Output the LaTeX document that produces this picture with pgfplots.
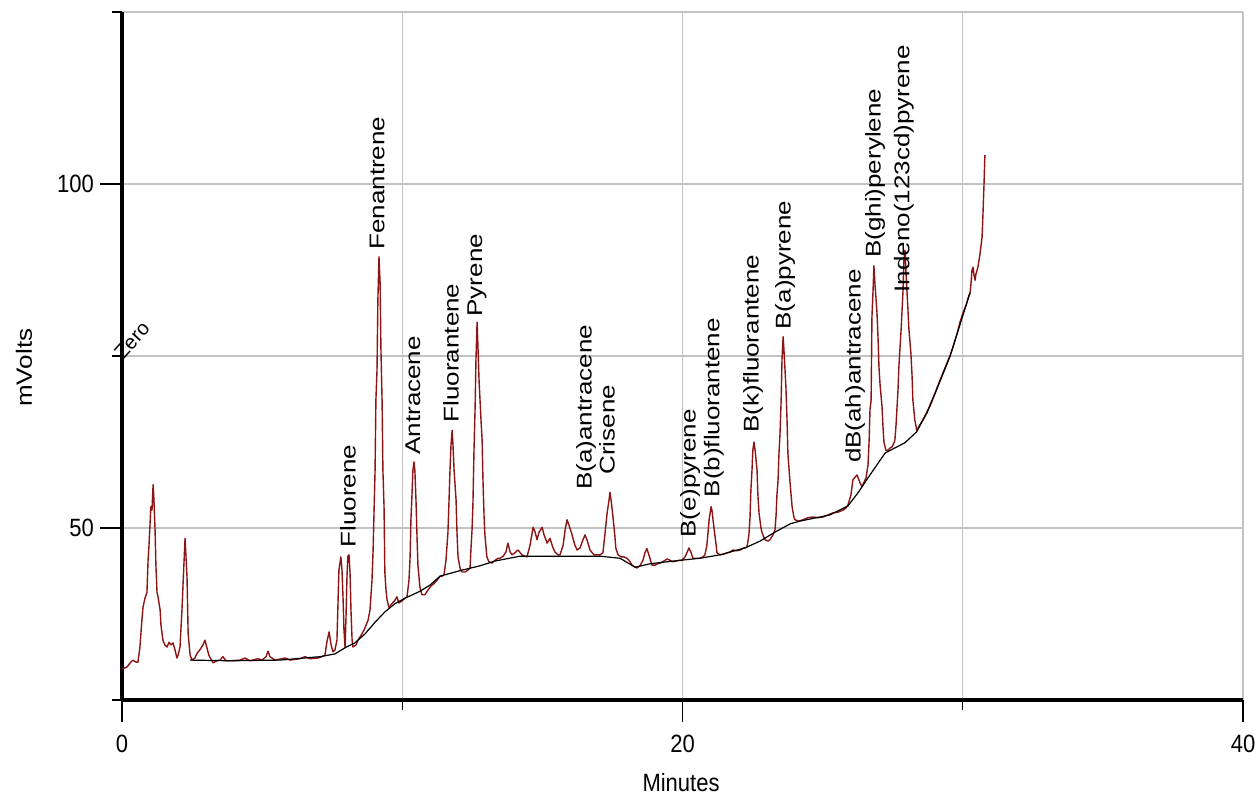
\documentclass[border=0pt]{standalone}
\usepackage{pgfplots}
\pgfplotsset{compat=1.18}
\usepackage{fontspec}
\setmainfont{Liberation Sans}
\definecolor{trace}{RGB}{140,20,20}
\definecolor{gridc}{RGB}{195,195,195}
\begin{document}
\begin{tikzpicture}
\begin{axis}[
  at={(0,0)}, anchor=south west,
  scale only axis, width=560.5pt, height=344pt,
  xmin=0, xmax=40, ymin=25, ymax=125,
  axis lines*=left,
  axis line style={-, black, line width=2pt},
  clip=false,
  xtick={0,20,40}, xticklabels={0,20,40},
  minor xtick={10,30},
  ytick={50,100}, yticklabels={50,100},
  minor ytick={25,75,125},
  grid=both,
  major grid style={gridc, line width=0.6pt},
  minor grid style={gridc, line width=0.6pt},
  tick align=outside,
  major tick length=11pt, minor tick length=5pt,
  tick style={black, line width=0.7pt},
  xticklabel style={font=\fontsize{12.5}{14}\selectfont, xscale=0.88, yshift=-3pt},
  yticklabel style={font=\fontsize{12.5}{14}\selectfont, xscale=0.88},
  xlabel={Minutes},
  ylabel={mVolts},
  xlabel style={font=\fontsize{12.5}{14}\selectfont, xscale=0.88, at={(axis description cs:0.4987,-0.1206)}, anchor=center},
  ylabel style={font=\fontsize{13}{15}\selectfont, yscale=0.85, at={(axis description cs:-0.0874,0.483)}, anchor=center},
  label style={inner sep=0pt},
]
\addplot[trace, line width=0.7pt, line join=round, no marks] coordinates {
(0.00,29.5)(0.18,29.8)(0.29,30.4)(0.39,30.8)(0.50,30.5)(0.57,30.5)(0.64,32.7)(0.71,36.6)(0.75,38.5)(0.82,39.8)(0.89,40.6)(0.93,45.3)(0.96,47.2)(1.03,53.1)(1.07,52.6)(1.11,56.3)(1.14,54.1)(1.18,49.7)(1.21,44.6)(1.25,40.6)(1.28,40.1)(1.36,38.1)(1.39,35.9)(1.46,33.7)(1.53,33.0)(1.61,32.7)(1.68,33.4)(1.75,33.0)(1.82,33.3)(1.89,32.3)(1.96,31.1)(2.00,31.5)(2.07,32.7)(2.14,38.1)(2.18,42.0)(2.25,48.5)(2.28,46.1)(2.32,42.9)(2.36,34.7)(2.43,31.5)(2.50,30.8)(2.60,31.1)(2.68,31.8)(2.78,32.3)(2.89,33.0)(2.96,33.7)(3.03,32.6)(3.10,31.5)(3.25,30.4)(3.39,30.7)(3.50,30.8)(3.60,31.3)(3.71,30.7)(3.85,30.7)(4.21,30.8)(4.39,31.1)(4.57,30.7)(4.85,31.0)(5.00,30.8)(5.14,31.3)(5.21,32.1)(5.28,31.3)(5.46,30.8)(5.82,31.1)(5.99,30.8)(6.35,31.0)(6.53,31.3)(6.71,31.0)(6.99,31.1)(7.14,31.3)(7.24,31.5)(7.31,33.4)(7.39,34.9)(7.46,33.0)(7.53,32.0)(7.60,32.3)(7.67,33.7)(7.71,39.5)(7.74,43.9)(7.81,45.8)(7.85,43.9)(7.89,39.5)(7.92,35.2)(7.96,32.6)(7.99,36.6)(8.03,43.2)(8.06,45.9)(8.10,46.1)(8.14,43.2)(8.17,38.1)(8.21,33.7)(8.24,32.7)(8.35,33.0)(8.42,33.7)(8.53,34.4)(8.64,35.2)(8.71,35.9)(8.78,36.6)(8.85,38.1)(8.92,42.4)(8.96,46.8)(9.03,58.4)(9.06,68.6)(9.10,73.0)(9.13,83.1)(9.17,89.4)(9.21,85.6)(9.24,75.9)(9.28,68.6)(9.31,58.4)(9.35,53.1)(9.38,43.5)(9.42,41.0)(9.46,39.5)(9.53,38.4)(9.63,39.0)(9.74,39.5)(9.81,40.0)(9.88,39.1)(9.99,39.4)(10.10,39.8)(10.17,40.0)(10.24,42.4)(10.28,45.8)(10.31,51.2)(10.35,55.1)(10.38,58.4)(10.42,59.6)(10.45,58.4)(10.49,54.1)(10.53,48.3)(10.56,44.6)(10.63,41.4)(10.70,40.3)(10.81,40.3)(10.92,41.0)(11.03,41.6)(11.13,41.9)(11.24,42.4)(11.35,43.0)(11.42,43.0)(11.49,43.2)(11.56,45.3)(11.63,49.3)(11.67,54.1)(11.70,58.0)(11.74,62.1)(11.78,64.2)(11.81,62.1)(11.85,58.4)(11.92,54.1)(11.95,49.7)(11.99,45.8)(12.06,44.2)(12.13,43.6)(12.24,43.6)(12.35,43.9)(12.42,44.2)(12.45,46.8)(12.49,49.7)(12.52,53.1)(12.56,61.3)(12.60,67.6)(12.63,74.4)(12.67,79.9)(12.70,76.6)(12.74,71.5)(12.81,65.7)(12.85,62.8)(12.88,57.0)(12.92,51.6)(12.95,49.0)(13.02,45.8)(13.09,45.1)(13.20,44.9)(13.31,45.3)(13.42,45.6)(13.49,45.6)(13.60,45.9)(13.70,46.5)(13.77,47.8)(13.85,46.5)(13.92,46.1)(14.02,46.4)(14.13,46.8)(14.27,46.1)(14.45,45.8)(14.56,47.5)(14.67,50.1)(14.74,49.4)(14.81,48.3)(14.88,49.4)(14.99,50.1)(15.06,49.0)(15.17,47.8)(15.24,48.3)(15.27,48.5)(15.38,47.1)(15.45,46.5)(15.56,46.1)(15.63,46.1)(15.74,47.5)(15.81,49.7)(15.88,51.2)(15.95,50.4)(16.06,49.0)(16.16,47.5)(16.24,46.8)(16.34,47.1)(16.45,48.3)(16.52,49.0)(16.59,48.3)(16.70,46.8)(16.84,46.1)(16.95,46.1)(17.06,46.1)(17.16,46.4)(17.23,49.0)(17.31,52.2)(17.38,54.1)(17.41,55.2)(17.45,54.1)(17.52,51.6)(17.59,48.7)(17.62,47.1)(17.70,46.1)(17.81,45.8)(17.91,45.8)(18.02,45.6)(18.13,45.1)(18.20,44.6)(18.31,44.3)(18.38,44.2)(18.48,44.5)(18.59,45.3)(18.66,46.4)(18.73,47.0)(18.80,46.1)(18.91,44.6)(19.02,44.6)(19.12,44.8)(19.20,44.9)(19.34,45.2)(19.45,45.5)(19.55,45.3)(19.66,45.1)(19.77,45.2)(19.88,45.3)(19.98,45.3)(20.09,45.8)(20.20,46.8)(20.23,47.1)(20.30,46.5)(20.37,45.6)(20.48,45.6)(20.62,45.6)(20.73,45.8)(20.80,46.1)(20.87,47.5)(20.95,51.2)(21.02,53.1)(21.05,52.6)(21.12,50.1)(21.20,47.5)(21.23,46.4)(21.34,46.1)(21.48,46.2)(21.59,46.4)(21.69,46.5)(21.80,46.8)(21.94,46.7)(22.05,46.8)(22.19,47.1)(22.30,47.2)(22.37,49.0)(22.41,51.6)(22.44,55.5)(22.48,58.4)(22.51,61.3)(22.55,62.5)(22.59,61.3)(22.66,58.4)(22.69,54.8)(22.73,52.2)(22.80,50.0)(22.84,49.3)(22.94,48.3)(23.05,48.1)(23.12,48.3)(23.23,49.0)(23.30,49.7)(23.34,51.9)(23.37,54.8)(23.41,57.0)(23.44,60.6)(23.48,63.8)(23.52,68.6)(23.55,74.4)(23.59,77.8)(23.62,75.9)(23.69,70.5)(23.73,65.7)(23.76,60.9)(23.83,57.0)(23.91,53.1)(23.98,51.5)(24.01,51.2)(24.16,51.0)(24.30,51.2)(24.48,51.5)(24.66,51.6)(24.84,51.5)(25.02,51.6)(25.19,51.9)(25.37,52.2)(25.55,52.3)(25.73,52.6)(25.83,52.9)(25.90,53.3)(26.01,54.8)(26.08,57.0)(26.16,57.4)(26.23,57.7)(26.34,56.5)(26.41,56.0)(26.48,56.7)(26.55,57.3)(26.62,59.2)(26.66,62.8)(26.69,67.2)(26.73,68.6)(26.76,80.7)(26.80,84.6)(26.83,88.1)(26.87,85.3)(26.94,81.3)(26.98,77.3)(27.01,73.4)(27.05,70.8)(27.12,67.6)(27.15,65.0)(27.19,62.4)(27.26,61.3)(27.33,61.3)(27.40,61.6)(27.48,61.8)(27.55,62.4)(27.58,62.8)(27.62,65.0)(27.65,67.2)(27.69,70.1)(27.72,73.4)(27.80,78.8)(27.87,84.6)(27.90,89.0)(27.94,90.4)(27.97,87.5)(28.04,82.1)(28.08,78.8)(28.15,75.4)(28.19,72.2)(28.22,68.6)(28.29,65.7)(28.36,64.2)(28.47,65.0)(28.58,65.7)(28.72,66.7)(28.83,67.9)(29.01,69.6)(29.19,71.5)(29.37,73.3)(29.55,75.1)(29.65,76.3)(29.80,78.3)(29.90,79.9)(30.01,81.3)(30.12,82.4)(30.19,83.4)(30.26,84.2)(30.29,85.3)(30.33,87.5)(30.37,87.9)(30.40,86.8)(30.44,86.0)(30.47,86.9)(30.54,87.9)(30.61,89.7)(30.69,92.3)(30.72,95.5)(30.76,100.1)(30.79,104.2)
};
\addplot[black, line width=0.6pt, no marks] coordinates {
(2.43,30.8)(3.85,30.7)(5.64,30.8)(7.07,31.3)(7.60,31.7)(7.96,32.6)(8.31,33.3)(8.67,34.6)(9.03,36.3)(9.38,37.8)(9.74,39.0)(10.10,39.8)(10.63,40.8)(10.99,41.7)(11.35,43.0)(12.06,43.8)(12.77,44.5)(13.31,45.2)(14.20,45.9)(15.63,45.9)(17.06,45.9)(17.77,45.6)(18.31,44.3)(18.84,44.8)(19.91,45.3)(20.62,45.6)(21.34,46.1)(22.23,47.1)(22.77,48.1)(23.30,49.4)(23.84,50.6)(24.19,51.0)(25.26,51.9)(25.90,53.2)(26.26,55.1)(26.62,57.3)(27.23,60.9)(27.94,62.4)(28.36,64.0)(28.83,67.7)(29.55,75.0)(30.26,84.2)
};
\tikzset{pk/.style={rotate=90, yscale=0.82, anchor=west, inner sep=0pt, font=\fontsize{13}{15}\selectfont}}
\node[pk] at (axis cs:8.06,47.1) {Fluorene};
\node[pk] at (axis cs:9.10,90.4) {Fenantrene};
\node[pk] at (axis cs:10.38,60.6) {Antracene};
\node[pk] at (axis cs:11.74,65.3) {Fluorantene};
\node[pk] at (axis cs:12.67,80.7) {Pyrene};
\node[pk] at (axis cs:16.56,55.5) {B(a)antracene};
\node[pk] at (axis cs:17.31,57.7) {Crisene};
\node[pk] at (axis cs:20.27,48.5) {B(e)pyrene};
\node[pk] at (axis cs:21.12,54.4) {B(b)fluorantene};
\node[pk] at (axis cs:22.52,63.8) {B(k)fluorantene};
\node[pk] at (axis cs:23.66,78.8) {B(a)pyrene};
\node[pk] at (axis cs:26.16,59.4) {dB(ah)antracene};
\node[pk] at (axis cs:26.87,89.2) {B(ghi)perylene};
\node[pk] at (axis cs:27.90,84.2) {Indeno(123cd)pyrene};
\node[rotate=48, anchor=south west, inner sep=0pt, font=\fontsize{10}{12}\selectfont] at (axis cs:0.05,74.3) {Zero};
\end{axis}
\pgfresetboundingbox
\path[use as bounding box] (-61pt,-48pt) rectangle (567.5pt,350pt);
\end{tikzpicture}
\end{document}
